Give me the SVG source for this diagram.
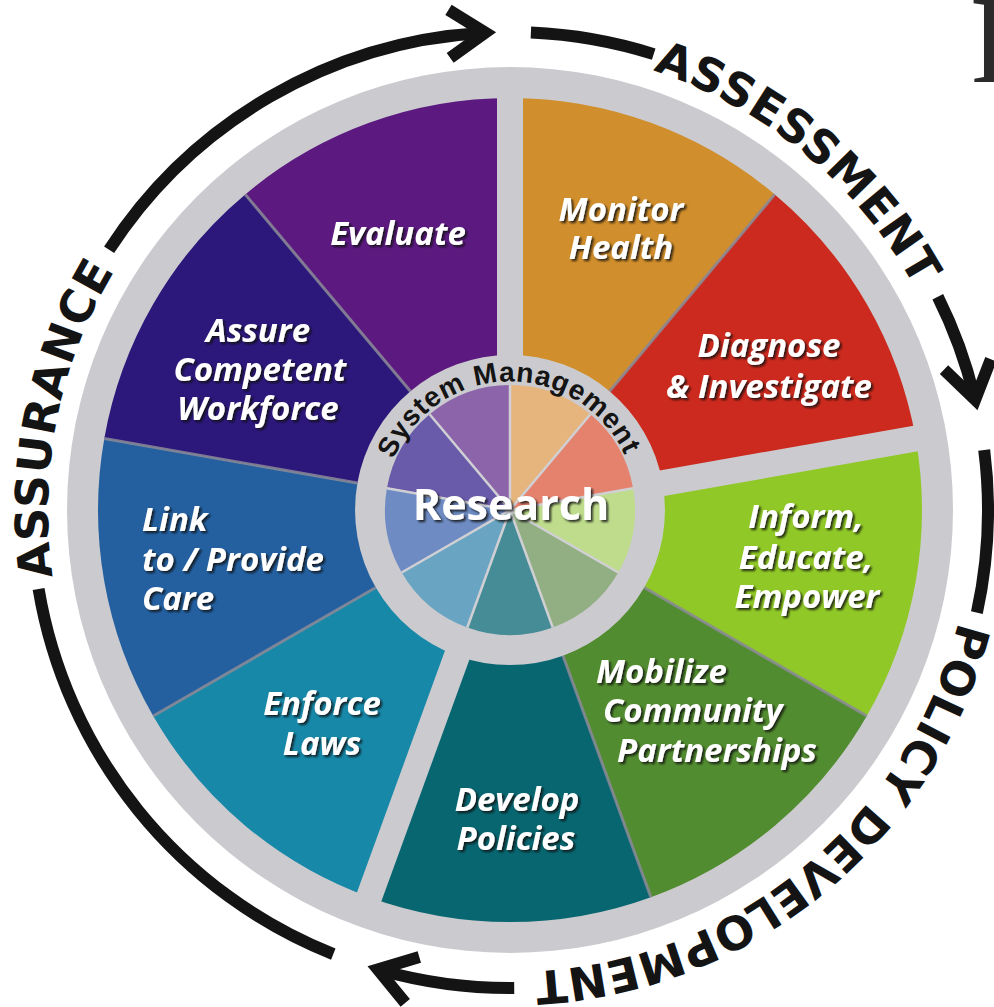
<svg xmlns="http://www.w3.org/2000/svg" width="994" height="1007" viewBox="0 0 994 1007">
<defs>
<style>
.lbl{font-family:"Open Sans","Liberation Sans",sans-serif;font-weight:700;font-style:italic;font-size:33px;fill:#ffffff;text-anchor:middle;}
.lft{text-anchor:start;}
.arcT{font-family:"DejaVu Sans","Liberation Sans",sans-serif;font-weight:700;font-size:46px;fill:#141414;}
.arr{fill:none;stroke:#141414;stroke-width:12;}
.head{fill:none;stroke:#141414;stroke-width:12;stroke-linejoin:miter;stroke-miterlimit:10;}
.thin{stroke:#8a8a96;stroke-width:3;stroke-opacity:0.85;}
.gap{stroke:#cbcbcf;stroke-width:26;}
.isep{stroke:#d0d0d4;stroke-width:2.5;}
.sys{font-family:"Liberation Sans",Arial,sans-serif;font-weight:700;font-size:28px;fill:#141414;}
.res{font-family:"Open Sans","Liberation Sans",sans-serif;font-weight:700;font-size:43px;fill:#ffffff;text-anchor:middle;}
</style>
<filter id="sh" x="-10%" y="-20%" width="130%" height="160%">
<feDropShadow dx="2" dy="2" stdDeviation="1" flood-color="#111111" flood-opacity="0.85"/>
</filter>
<path id="pAssess" d="M652.8,70.6 A462,462 0 0 1 916.0,289.5"/>
<path id="pAssur" d="M52.8,576.7 A462,462 0 0 1 116.1,268.6"/>
<path id="pPolicy" d="M958.3,621.8 A462,462 0 0 1 531.8,971.5"/>
<path id="pSys" d="M393.6,459.3 A126,126 0 0 1 626.4,459.3"/>
</defs>

<rect x="0" y="0" width="994" height="1007" fill="#ffffff"/>
<text x="970" y="82" font-family="'Liberation Serif',serif" font-size="124" fill="#2b2b2b">F</text>

<circle id="wheel-base" cx="510" cy="510" r="443" fill="#cbcbcf"/>

<g id="monitor-health">
<path d="M510,355 L510,98 A412,412 0 0 1 774.8,194.4 L609.6,391.3 A155,155 0 0 0 510,355 Z" fill="#d08e2c"/>
<path d="M510,510 L510,385 A125,125 0 0 1 590.4,414.3 Z" fill="#e6b47d"/>
<g class="lbl" filter="url(#sh)"><text x="621" y="221">Monitor</text><text x="621" y="259">Health</text></g>
</g>

<g id="diagnose-investigate">
<path d="M609.6,391.3 L774.8,194.4 A412,412 0 0 1 915.7,438.5 L662.6,483.1 A155,155 0 0 0 609.6,391.3 Z" fill="#cc2a1e"/>
<path d="M510,510 L590.4,414.3 A125,125 0 0 1 633.1,488.3 Z" fill="#e4826e"/>
<g class="lbl" filter="url(#sh)"><text x="769" y="357">Diagnose</text><text x="769" y="398">&amp; Investigate</text></g>
</g>

<g id="inform-educate-empower">
<path d="M662.6,483.1 L915.7,438.5 A412,412 0 0 1 866.8,716 L644.2,587.5 A155,155 0 0 0 662.6,483.1 Z" fill="#90c828"/>
<path d="M510,510 L633.1,488.3 A125,125 0 0 1 618.3,572.5 Z" fill="#bedc8c"/>
<g class="lbl" filter="url(#sh)"><text x="806" y="528">Inform,</text><text x="806" y="569">Educate,</text><text x="807" y="608">Empower</text></g>
</g>

<g id="mobilize-partnerships">
<path d="M644.2,587.5 L866.8,716 A412,412 0 0 1 650.9,897.2 L563.0,655.7 A155,155 0 0 0 644.2,587.5 Z" fill="#528c30"/>
<path d="M510,510 L618.3,572.5 A125,125 0 0 1 552.8,627.5 Z" fill="#91af82"/>
<g class="lbl lft" filter="url(#sh)"><text x="596" y="683">Mobilize</text><text x="603" y="722">Community</text><text x="617" y="762">Partnerships</text></g>
</g>

<g id="develop-policies">
<path d="M563.0,655.7 L650.9,897.2 A412,412 0 0 1 369.1,897.2 L457.0,655.7 A155,155 0 0 0 563.0,655.7 Z" fill="#086670"/>
<path d="M510,510 L552.8,627.5 A125,125 0 0 1 467.3,627.5 Z" fill="#468c96"/>
<g class="lbl" filter="url(#sh)"><text x="517" y="811">Develop</text><text x="516" y="850">Policies</text></g>
</g>

<g id="enforce-laws">
<path d="M457.0,655.7 L369.1,897.2 A412,412 0 0 1 153.2,716 L375.8,587.5 A155,155 0 0 0 457.0,655.7 Z" fill="#1888a8"/>
<path d="M510,510 L467.3,627.5 A125,125 0 0 1 401.7,572.5 Z" fill="#69a5c3"/>
<g class="lbl" filter="url(#sh)"><text x="322" y="715">Enforce</text><text x="322" y="755">Laws</text></g>
</g>

<g id="link-provide-care">
<path d="M375.8,587.5 L153.2,716 A412,412 0 0 1 104.3,438.5 L357.4,483.1 A155,155 0 0 0 375.8,587.5 Z" fill="#2460a0"/>
<path d="M510,510 L401.7,572.5 A125,125 0 0 1 386.9,488.3 Z" fill="#6e8cc3"/>
<g class="lbl lft" filter="url(#sh)"><text x="142" y="531">Link</text><text x="142" y="571">to / Provide</text><text x="142" y="610">Care</text></g>
</g>

<g id="assure-workforce">
<path d="M357.4,483.1 L104.3,438.5 A412,412 0 0 1 245.2,194.4 L410.4,391.3 A155,155 0 0 0 357.4,483.1 Z" fill="#2c187a"/>
<path d="M510,510 L386.9,488.3 A125,125 0 0 1 429.6,414.3 Z" fill="#695aaa"/>
<g class="lbl" filter="url(#sh)"><text x="258" y="342">Assure</text><text x="260" y="381">Competent</text><text x="258" y="420">Workforce</text></g>
</g>

<g id="evaluate">
<path d="M410.4,391.3 L245.2,194.4 A412,412 0 0 1 510,98 L510,355 A155,155 0 0 0 410.4,391.3 Z" fill="#5c1a80"/>
<path d="M510,510 L429.6,414.3 A125,125 0 0 1 510,385 Z" fill="#8c64aa"/>
<g class="lbl" filter="url(#sh)"><text x="398" y="245">Evaluate</text></g>
</g>

<g id="dividers">
<line class="gap" x1="510" y1="360" x2="510" y2="85"/>
<line class="gap" x1="657.7" y1="484.0" x2="928.5" y2="436.2"/>
<line class="gap" x1="458.7" y1="651.0" x2="364.6" y2="909.4"/>
<line class="thin" x1="609.6" y1="391.3" x2="774.8" y2="194.4"/>
<line class="thin" x1="644.2" y1="587.5" x2="866.8" y2="716"/>
<line class="thin" x1="563.0" y1="655.7" x2="650.9" y2="897.2"/>
<line class="thin" x1="375.8" y1="587.5" x2="153.2" y2="716"/>
<line class="thin" x1="357.4" y1="483.1" x2="104.3" y2="438.5"/>
<line class="thin" x1="410.4" y1="391.3" x2="245.2" y2="194.4"/>
<line class="isep" x1="510" y1="510" x2="510" y2="385"/>
<line class="isep" x1="510" y1="510" x2="590.4" y2="414.3"/>
<line class="isep" x1="510" y1="510" x2="633.1" y2="488.3"/>
<line class="isep" x1="510" y1="510" x2="618.3" y2="572.5"/>
<line class="isep" x1="510" y1="510" x2="552.8" y2="627.5"/>
<line class="isep" x1="510" y1="510" x2="467.3" y2="627.5"/>
<line class="isep" x1="510" y1="510" x2="401.7" y2="572.5"/>
<line class="isep" x1="510" y1="510" x2="386.9" y2="488.3"/>
<line class="isep" x1="510" y1="510" x2="429.6" y2="414.3"/>
</g>

<g id="center">
<text class="sys"><textPath href="#pSys" textLength="292" lengthAdjust="spacing">System Management</textPath></text>
<text class="res" x="511" y="520" filter="url(#sh)">Research</text>
</g>

<g id="connectors">
<path class="arr" d="M333.3,954.1 A478,478 0 0 1 38.6,588.9"/>
<path class="arr" d="M109.1,249.7 A478,478 0 0 1 480.8,32.9"/>
<polyline class="head" points="-44,-24 -8,0 -44,24" transform="translate(493.3,32.3) rotate(-2)"/>
<path class="arr" d="M530.9,32.5 A478,478 0 0 1 653.7,54.1"/>
<path class="arr" d="M937.8,296.7 A478,478 0 0 1 974.4,396.8"/>
<polyline class="head" points="-44,-24 -8,0 -44,24" transform="translate(976.9,407.4) rotate(77.6)"/>
<path class="arr" d="M984.2,450.1 A478,478 0 0 1 976.9,612.6"/>
<path class="arr" d="M514.2,988.0 A478,478 0 0 1 380.6,970.2"/>
<polyline class="head" points="-44,-24 -8,0 -44,24" transform="translate(370.2,967.1) rotate(197)"/>
</g>

<g id="phase-labels">
<text class="arcT"><textPath href="#pAssess" textLength="348" lengthAdjust="spacing">ASSESSMENT</textPath></text>
<text class="arcT"><textPath href="#pAssur" textLength="318" lengthAdjust="spacing">ASSURANCE</textPath></text>
<text class="arcT"><textPath href="#pPolicy" textLength="588" lengthAdjust="spacing">POLICY DEVELOPMENT</textPath></text>
</g>
</svg>
